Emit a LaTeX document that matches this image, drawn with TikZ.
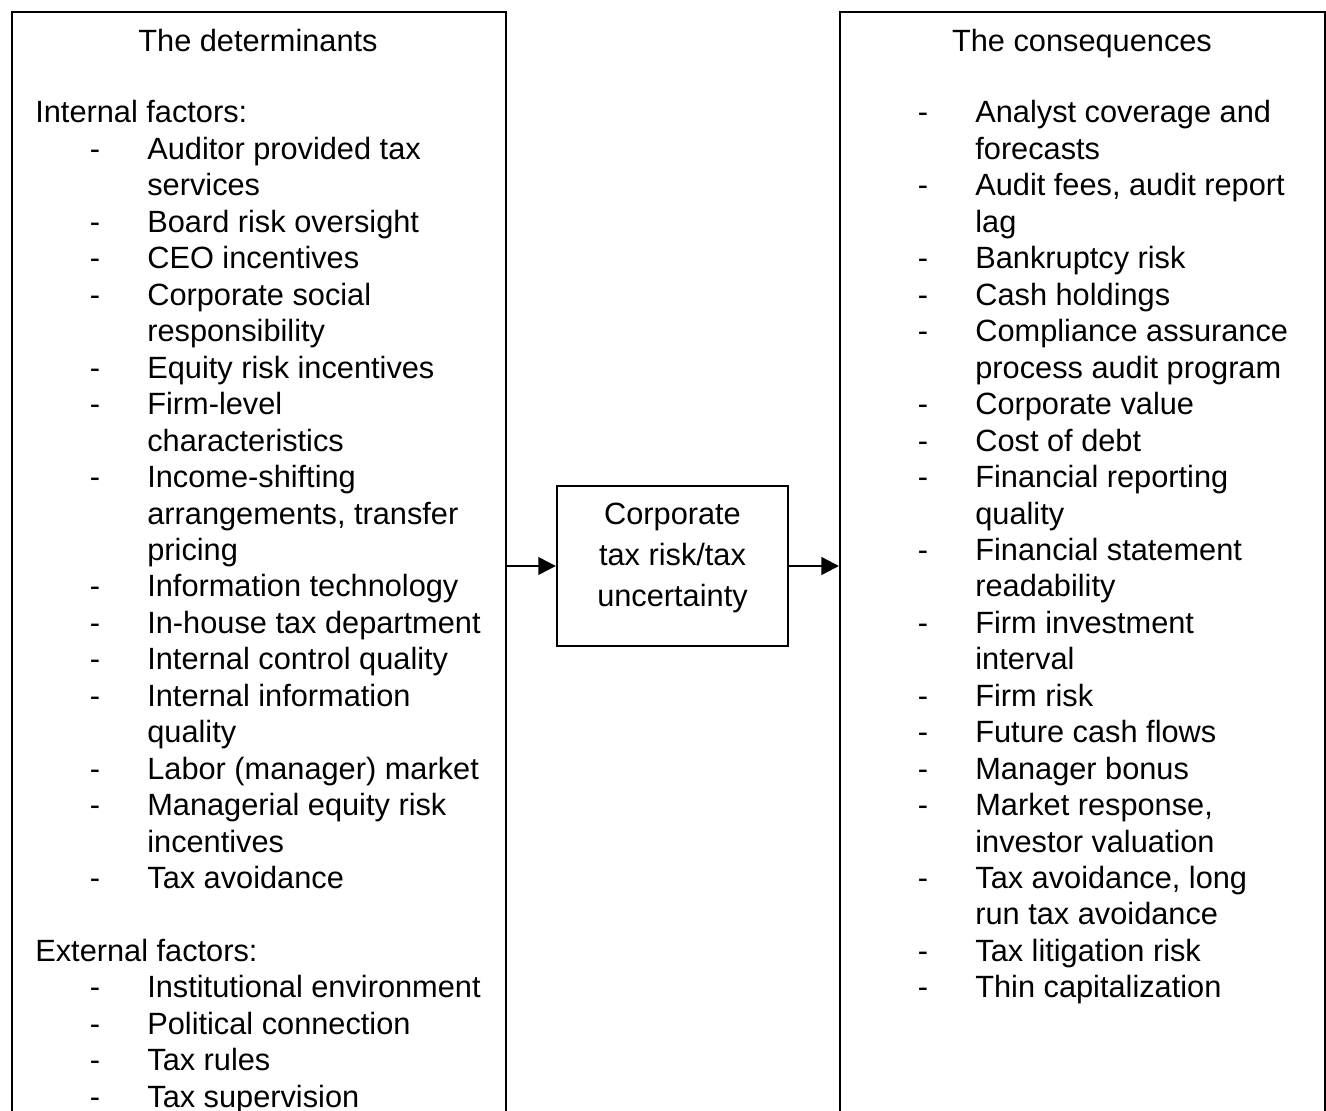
\documentclass[tikz,border=0pt]{standalone}
\usepackage{fontspec}
\setmainfont{Liberation Sans}
\usetikzlibrary{arrows.meta}

\tikzset{
    box/.style={draw, line width=1.3pt, inner sep=0pt},
    txt/.style={font=\fontsize{17.5}{20}\selectfont, inner sep=0pt, anchor=base west},
    head/.style={font=\fontsize{17.5}{20}\selectfont, inner sep=0pt, anchor=base},
    dashmark/.style={font=\fontsize{17.5}{20}\selectfont, inner sep=0pt, anchor=base},
    arr/.style={line width=1.3pt, -{Triangle[length=10pt, width=10pt]}},
}

\begin{document}
\begin{tikzpicture}[x=0.02cm, y=-0.02cm]
    \useasboundingbox (0,0) rectangle (1326,1111);
    \clip (0,0) rectangle (1326,1111);

    \node[box, anchor=north west, minimum width=9.88cm, minimum height=24cm] (det) at (11,11) {};
    \node[box, anchor=north west, minimum width=9.7cm, minimum height=24cm] (con) at (839,11) {};
    \node[box, minimum width=4.62cm, minimum height=3.2cm, align=center, text depth=12.5pt,
          font=\fontsize{17.5}{23.3}\selectfont] (risk) at (672.5,566) {Corporate\\tax risk/tax\\uncertainty};

    \draw[arr] (risk.west -| det.east) -- (risk.west);
    \draw[arr] (risk.east) -- (risk.east -| con.west);

    % the determinants
    \node[head] (dethead) at (258,52) {The determinants};
    \node[txt] (internal) at (35,123) {Internal factors:};
    \node[dashmark] (ld1) at (95,159.5) {-};   \node[txt] (l1) at (147,159.5) {Auditor provided tax};
    \node[txt] (l2) at (147,195.9) {services};
    \node[dashmark] (ld3) at (95,232.4) {-};   \node[txt] (l3) at (147,232.4) {Board risk oversight};
    \node[dashmark] (ld4) at (95,268.8) {-};   \node[txt] (l4) at (147,268.8) {CEO incentives};
    \node[dashmark] (ld5) at (95,305.3) {-};   \node[txt] (l5) at (147,305.3) {Corporate social};
    \node[txt] (l6) at (147,341.7) {responsibility};
    \node[dashmark] (ld7) at (95,378.2) {-};   \node[txt] (l7) at (147,378.2) {Equity risk incentives};
    \node[dashmark] (ld8) at (95,414.6) {-};   \node[txt] (l8) at (147,414.6) {Firm-level};
    \node[txt] (l9) at (147,451.1) {characteristics};
    \node[dashmark] (ld10) at (95,487.5) {-};  \node[txt] (l10) at (147,487.5) {Income-shifting};
    \node[txt] (l11) at (147,524) {arrangements, transfer};
    \node[txt] (l12) at (147,560.4) {pricing};
    \node[dashmark] (ld13) at (95,596.9) {-};  \node[txt] (l13) at (147,596.9) {Information technology};
    \node[dashmark] (ld14) at (95,633.3) {-};  \node[txt] (l14) at (147,633.3) {In-house tax department};
    \node[dashmark] (ld15) at (95,669.8) {-};  \node[txt] (l15) at (147,669.8) {Internal control quality};
    \node[dashmark] (ld16) at (95,706.2) {-};  \node[txt] (l16) at (147,706.2) {Internal information};
    \node[txt] (l17) at (147,742.7) {quality};
    \node[dashmark] (ld18) at (95,779.1) {-};  \node[txt] (l18) at (147,779.1) {Labor (manager) market};
    \node[dashmark] (ld19) at (95,815.6) {-};  \node[txt] (l19) at (147,815.6) {Managerial equity risk};
    \node[txt] (l20) at (147,852) {incentives};
    \node[dashmark] (ld21) at (95,888.5) {-};  \node[txt] (l21) at (147,888.5) {Tax avoidance};

    \node[txt] (external) at (35,961.4) {External factors:};
    \node[dashmark] (ld24) at (95,997.8) {-};  \node[txt] (l24) at (147,997.8) {Institutional environment};
    \node[dashmark] (ld25) at (95,1034.3) {-}; \node[txt] (l25) at (147,1034.3) {Political connection};
    \node[dashmark] (ld26) at (95,1070.7) {-}; \node[txt] (l26) at (147,1070.7) {Tax rules};
    \node[dashmark] (ld27) at (95,1107.2) {-}; \node[txt] (l27) at (147,1107.2) {Tax supervision};

    % the consequences
    \node[head] (conhead) at (1082,52) {The consequences};
    \node[dashmark] (rd0) at (923,123) {-};    \node[txt] (r0) at (975,123) {Analyst coverage and};
    \node[txt] (r1) at (975,159.5) {forecasts};
    \node[dashmark] (rd2) at (923,195.9) {-};  \node[txt] (r2) at (975,195.9) {Audit fees, audit report};
    \node[txt] (r3) at (975,232.4) {lag};
    \node[dashmark] (rd4) at (923,268.8) {-};  \node[txt] (r4) at (975,268.8) {Bankruptcy risk};
    \node[dashmark] (rd5) at (923,305.3) {-};  \node[txt] (r5) at (975,305.3) {Cash holdings};
    \node[dashmark] (rd6) at (923,341.7) {-};  \node[txt] (r6) at (975,341.7) {Compliance assurance};
    \node[txt] (r7) at (975,378.2) {process audit program};
    \node[dashmark] (rd8) at (923,414.6) {-};  \node[txt] (r8) at (975,414.6) {Corporate value};
    \node[dashmark] (rd9) at (923,451.1) {-};  \node[txt] (r9) at (975,451.1) {Cost of debt};
    \node[dashmark] (rd10) at (923,487.5) {-}; \node[txt] (r10) at (975,487.5) {Financial reporting};
    \node[txt] (r11) at (975,524) {quality};
    \node[dashmark] (rd12) at (923,560.4) {-}; \node[txt] (r12) at (975,560.4) {Financial statement};
    \node[txt] (r13) at (975,596.9) {readability};
    \node[dashmark] (rd14) at (923,633.3) {-}; \node[txt] (r14) at (975,633.3) {Firm investment};
    \node[txt] (r15) at (975,669.8) {interval};
    \node[dashmark] (rd16) at (923,706.2) {-}; \node[txt] (r16) at (975,706.2) {Firm risk};
    \node[dashmark] (rd17) at (923,742.7) {-}; \node[txt] (r17) at (975,742.7) {Future cash flows};
    \node[dashmark] (rd18) at (923,779.1) {-}; \node[txt] (r18) at (975,779.1) {Manager bonus};
    \node[dashmark] (rd19) at (923,815.6) {-}; \node[txt] (r19) at (975,815.6) {Market response,};
    \node[txt] (r20) at (975,852) {investor valuation};
    \node[dashmark] (rd21) at (923,888.5) {-}; \node[txt] (r21) at (975,888.5) {Tax avoidance, long};
    \node[txt] (r22) at (975,924.9) {run tax avoidance};
    \node[dashmark] (rd23) at (923,961.4) {-}; \node[txt] (r23) at (975,961.4) {Tax litigation risk};
    \node[dashmark] (rd24) at (923,997.8) {-}; \node[txt] (r24) at (975,997.8) {Thin capitalization};
\end{tikzpicture}
\end{document}
